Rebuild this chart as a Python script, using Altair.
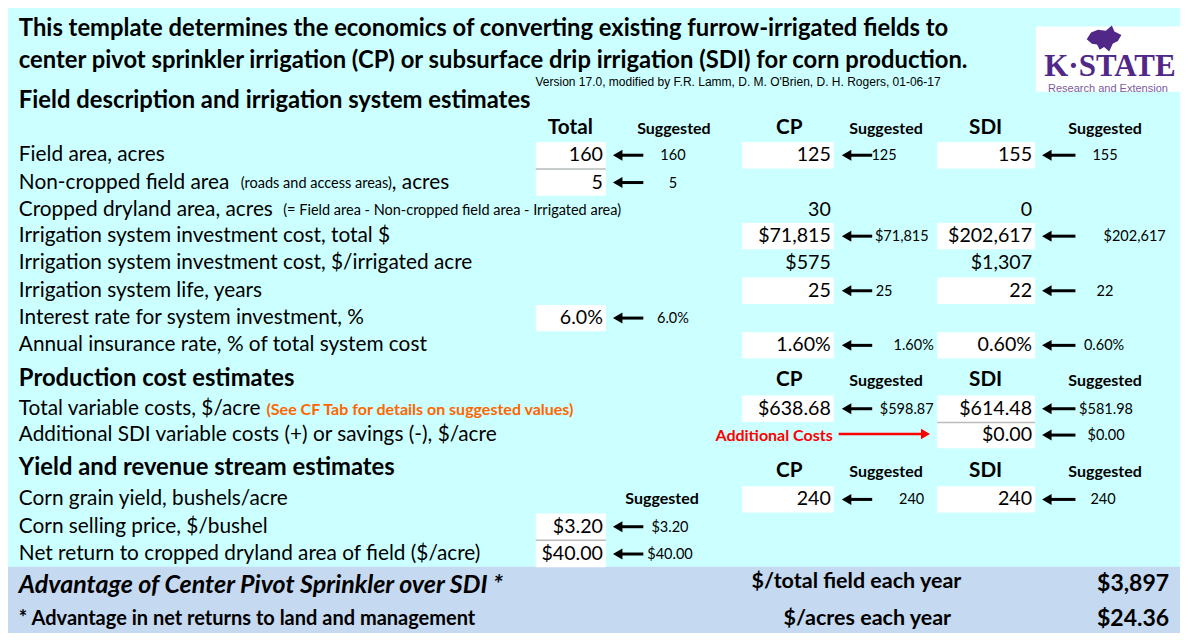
import altair as alt
import pandas as pd

# ---------------- data ----------------
title_lines = [
    "This template determines the economics of converting existing furrow-irrigated fields to",
    "center pivot sprinkler irrigation (CP) or subsurface drip irrigation (SDI) for corn production.",
]
version_note = "Version 17.0, modified by F.R. Lamm, D. M. O'Brien, D. H. Rogers, 01-06-17"
section_titles = [
    "Field description and irrigation system estimates",
    "Production cost estimates",
    "Yield and revenue stream estimates",
]
column_headers = ["Total", "CP", "SDI"]
suggested_label = "Suggested"

field_labels = [
    "Field area, acres",
    "Non-cropped field area",
    "Cropped dryland area, acres",
    "Irrigation system investment cost, total $",
    "Irrigation system investment cost, $/irrigated acre",
    "Irrigation system life, years",
    "Interest rate for system investment, %",
    "Annual insurance rate, % of total system cost",
]
field_total = ["160", "5", "", "", "", "", "6.0%", ""]
field_total_sugg = ["160", "5", "", "", "", "", "6.0%", ""]
field_cp = ["125", "", "30", "$71,815", "$575", "25", "", "1.60%"]
field_cp_sugg = ["125", "", "", "$71,815", "", "25", "", "1.60%"]
field_sdi = ["155", "", "0", "$202,617", "$1,307", "22", "", "0.60%"]
field_sdi_sugg = ["155", "", "", "$202,617", "", "22", "", "0.60%"]

noncropped_note = "(roads and access areas)"
noncropped_tail = ", acres"
cropped_note = "(= Field area - Non-cropped field area - Irrigated area)"

prod_labels = [
    "Total variable costs, $/acre",
    "Additional SDI variable costs (+) or savings (-), $/acre",
]
prod_note = "(See CF Tab for details on suggested values)"
prod_cp = ["$638.68", ""]
prod_cp_sugg = ["$598.87", ""]
prod_sdi = ["$614.48", "$0.00"]
prod_sdi_sugg = ["$581.98", "$0.00"]
additional_costs_label = "Additional Costs"

yield_labels = [
    "Corn grain yield, bushels/acre",
    "Corn selling price, $/bushel",
    "Net return to cropped dryland area of field ($/acre)",
]
yield_total = ["", "$3.20", "$40.00"]
yield_total_sugg = ["", "$3.20", "$40.00"]
yield_cp = ["240", "", ""]
yield_cp_sugg = ["240", "", ""]
yield_sdi = ["240", "", ""]
yield_sdi_sugg = ["240", "", ""]

advantage_title = "Advantage of Center Pivot Sprinkler over SDI *"
advantage_note = "* Advantage in net returns to land and management"
advantage_units = ["$/total field each year", "$/acres each year"]
advantage_values = ["$3,897", "$24.36"]

logo_name = "K\u00b7STATE"
logo_sub = "Research and Extension"

# ---------------- layout (reference pixel space) ----------------
W, H = 1188, 641
FONT = "Lato"
BG = "#CCFFFF"
BAND = "#C5D9F1"
LBL = 20.8   # row label font size
VAL = 19.6   # cell value font size

field_y = [151, 179, 207, 234, 262, 290, 318, 346]
prod_y = [411, 438]
yield_y = [504, 532, 560]
section_y = [95, 380, 472]
header_y = [123, 382, 475]

col_box = {"Total": (535, 606), "CP": (744, 837), "SDI": (942, 1041)}
col_right = {"Total": 603, "CP": 834, "SDI": 1038}
col_head = {"Total": 570, "CP": 792, "SDI": 991}
sugg_head = {"Total": 675, "CP": 890, "SDI": 1112}
arrow_span = {"Total": (613, 644), "CP": (845, 876), "SDI": (1048, 1082)}

cp_sugg_x_field = [888, 0, 0, 906, 0, 888, 0, 918]
sdi_sugg_x_field = [1112, 0, 0, 1142, 0, 1112, 0, 1111]

xs = alt.Scale(domain=[0, W], nice=False, zero=False)
ys = alt.Scale(domain=[0, H], nice=False, zero=False, reverse=True)

texts = []
boxes = []
arrows = []


def add_text(x, y, t, style):
    texts.append({"x": x, "y": y, "t": t, "style": style})


def add_input(col, y, val, sugg, sugg_x):
    if not val:
        return
    if sugg:
        x0, x1 = col_box[col]
        boxes.append({"x": x0, "x2": x1, "y": y - 13.5, "y2": y + 13.5})
        a0, a1 = arrow_span[col]
        arrows.append({"x": a0 + 4, "x2": a1, "y": y, "hx": a0 + 5})
        add_text(sugg_x, y + 1, sugg, "sugg")
    add_text(col_right[col], y, val, "val")


for i, y in enumerate(field_y):
    add_text(11, y, field_labels[i], "label")
    add_input("Total", y, field_total[i], field_total_sugg[i], 674)
    add_input("CP", y, field_cp[i], field_cp_sugg[i], cp_sugg_x_field[i])
    add_input("SDI", y, field_sdi[i], field_sdi_sugg[i], sdi_sugg_x_field[i])
for i, y in enumerate(prod_y):
    add_text(11, y, prod_labels[i], "label")
    add_input("CP", y, prod_cp[i], prod_cp_sugg[i], 911)
    add_input("SDI", y, prod_sdi[i], prod_sdi_sugg[i], 1113)
for i, y in enumerate(yield_y):
    add_text(11, y, yield_labels[i], "label")
    add_input("Total", y, yield_total[i], yield_total_sugg[i], 671)
    add_input("CP", y, yield_cp[i], yield_cp_sugg[i], 916)
    add_input("SDI", y, yield_sdi[i], yield_sdi_sugg[i], 1110)

for k, y in enumerate(section_y):
    add_text(11, y, section_titles[k], "section")
for k, y in enumerate(header_y):
    cols = ["Total", "CP", "SDI"] if k == 0 else ["CP", "SDI"]
    for c in cols:
        add_text(col_head[c], y, c, "head")
        add_text(sugg_head[c], y + 1, suggested_label, "shead")
add_text(663, yield_y[0], suggested_label, "shead")

tdf = pd.DataFrame(texts)


def tlayer(df, **kw):
    base = dict(baseline="middle", font=FONT, color="black")
    base.update(kw)
    return alt.Chart(df).mark_text(**base).encode(
        x=alt.X("x:Q", scale=xs, axis=None),
        y=alt.Y("y:Q", scale=ys, axis=None),
        text="t:N",
    )


def sub(style):
    return tdf[tdf["style"] == style]


band_df = pd.DataFrame([{"x": 0, "x2": W, "y": 573, "y2": H, "c": BAND},
                        {"x": 1042, "x2": W, "y": 19, "y2": 86, "c": "white"}])
band = alt.Chart(band_df).mark_rect().encode(
    x=alt.X("x:Q", scale=xs, axis=None), x2="x2:Q",
    y=alt.Y("y:Q", scale=ys, axis=None), y2="y2:Q",
    color=alt.Color("c:N", scale=None),
)
box_layer = alt.Chart(pd.DataFrame(boxes)).mark_rect(color="white").encode(
    x=alt.X("x:Q", scale=xs, axis=None), x2="x2:Q",
    y=alt.Y("y:Q", scale=ys, axis=None), y2="y2:Q",
)
sep_df = pd.DataFrame([
    {"x": 535, "x2": 606, "y": 165},
    {"x": 942, "x2": 1041, "y": 425},
    {"x": 535, "x2": 606, "y": 546},
])
sep_layer = alt.Chart(sep_df).mark_rule(color="#BBBBBB", strokeWidth=1.5).encode(
    x=alt.X("x:Q", scale=xs, axis=None), x2="x2:Q",
    y=alt.Y("y:Q", scale=ys, axis=None),
)

adf = pd.DataFrame(arrows)
arrow_shaft = alt.Chart(adf).mark_rule(color="black", strokeWidth=3).encode(
    x=alt.X("x:Q", scale=xs, axis=None), x2="x2:Q",
    y=alt.Y("y:Q", scale=ys, axis=None),
)
arrow_head = alt.Chart(adf).mark_point(
    shape="triangle-left", filled=True, color="black", size=120, opacity=1
).encode(
    x=alt.X("hx:Q", scale=xs, axis=None),
    y=alt.Y("y:Q", scale=ys, axis=None),
)

red_df = pd.DataFrame([{"x": 842, "x2": 928, "y": prod_y[1] - 1, "hx": 930}])
red_shaft = alt.Chart(red_df).mark_rule(color="#FF0000", strokeWidth=2.5).encode(
    x=alt.X("x:Q", scale=xs, axis=None), x2="x2:Q",
    y=alt.Y("y:Q", scale=ys, axis=None),
)
red_head = alt.Chart(red_df).mark_point(
    shape="triangle-right", filled=True, color="#FF0000", size=110, opacity=1
).encode(
    x=alt.X("hx:Q", scale=xs, axis=None),
    y=alt.Y("y:Q", scale=ys, axis=None),
)

cat_path = ("M-1,-0.05 L-0.75,-0.45 L-0.35,-0.6 L0.1,-0.55 L0.45,-0.85 L0.6,-0.5 "
            "L1,-0.3 L0.8,0.05 L0.5,0.2 L0.3,0.65 L0.0,0.4 L-0.25,0.55 L-0.4,0.25 L-0.7,0.2 Z")
cat = alt.Chart(pd.DataFrame([{"x": 1111, "y": 33}])).mark_point(
    shape=cat_path, filled=True, color="#512888", size=1200, opacity=1
).encode(x=alt.X("x:Q", scale=xs, axis=None), y=alt.Y("y:Q", scale=ys, axis=None))

layers = [band, box_layer, sep_layer, arrow_shaft, arrow_head, red_shaft, red_head, cat]

layers.append(tlayer(pd.DataFrame({"x": [11, 11], "y": [22, 54], "t": title_lines}),
                     align="left", fontSize=23.8, fontWeight="bold"))
layers.append(tlayer(pd.DataFrame({"x": [740], "y": [76], "t": [version_note]}),
                     align="center", fontSize=12, font="Liberation Sans"))
layers.append(tlayer(sub("section"), align="left", fontSize=23.8, fontWeight="bold"))
layers.append(tlayer(sub("label"), align="left", fontSize=LBL))
layers.append(tlayer(sub("val"), align="right", fontSize=VAL))
layers.append(tlayer(sub("sugg"), align="center", fontSize=14.5))
layers.append(tlayer(sub("head"), align="center", fontSize=20.7, fontWeight="bold"))
layers.append(tlayer(sub("shead"), align="center", fontSize=16, fontWeight="bold"))

layers.append(tlayer(pd.DataFrame({"x": [236, 279], "y": [field_y[1] + 1, field_y[2] + 1],
                                   "t": [noncropped_note, cropped_note]}),
                     align="left", fontSize=14.5))
layers.append(tlayer(pd.DataFrame({"x": [389], "y": [field_y[1]], "t": [noncropped_tail]}),
                     align="left", fontSize=LBL))
layers.append(tlayer(pd.DataFrame({"x": [262], "y": [prod_y[0] + 1], "t": [prod_note]}),
                     align="left", fontSize=16, fontWeight="bold", color="#FF6600"))
layers.append(tlayer(pd.DataFrame({"x": [836], "y": [prod_y[1] + 1], "t": [additional_costs_label]}),
                     align="right", fontSize=16, fontWeight="bold", color="#FF0000"))

layers.append(tlayer(pd.DataFrame({"x": [11], "y": [592], "t": [advantage_title]}),
                     align="left", fontSize=25, fontWeight="bold", fontStyle="italic"))
layers.append(tlayer(pd.DataFrame({"x": [11], "y": [627], "t": [advantage_note]}),
                     align="left", fontSize=20, fontWeight="bold"))
layers.append(tlayer(pd.DataFrame({"x": [860, 871], "y": [589, 627], "t": advantage_units}),
                     align="center", fontSize=21.5, fontWeight="bold"))
layers.append(tlayer(pd.DataFrame({"x": [1177, 1177], "y": [591, 627], "t": advantage_values}),
                     align="right", fontSize=23, fontWeight="bold"))

layers.append(tlayer(pd.DataFrame({"x": [1117], "y": [60], "t": [logo_name]}),
                     align="center", fontSize=31, fontWeight="bold", font="Liberation Serif",
                     color="#512888"))
layers.append(tlayer(pd.DataFrame({"x": [1115], "y": [83.5], "t": [logo_sub]}),
                     align="center", fontSize=11, font="Liberation Sans", color="#7B5CA3"))

chart = alt.layer(*layers).properties(
    width=1172, height=625,
    autosize=alt.AutoSizeParams(type="fit", contains="padding"),
    padding=0, background=BG,
).configure_view(stroke=None, fill=BG)

chart.save("out.html", embed_options={"renderer": "svg", "actions": False})
